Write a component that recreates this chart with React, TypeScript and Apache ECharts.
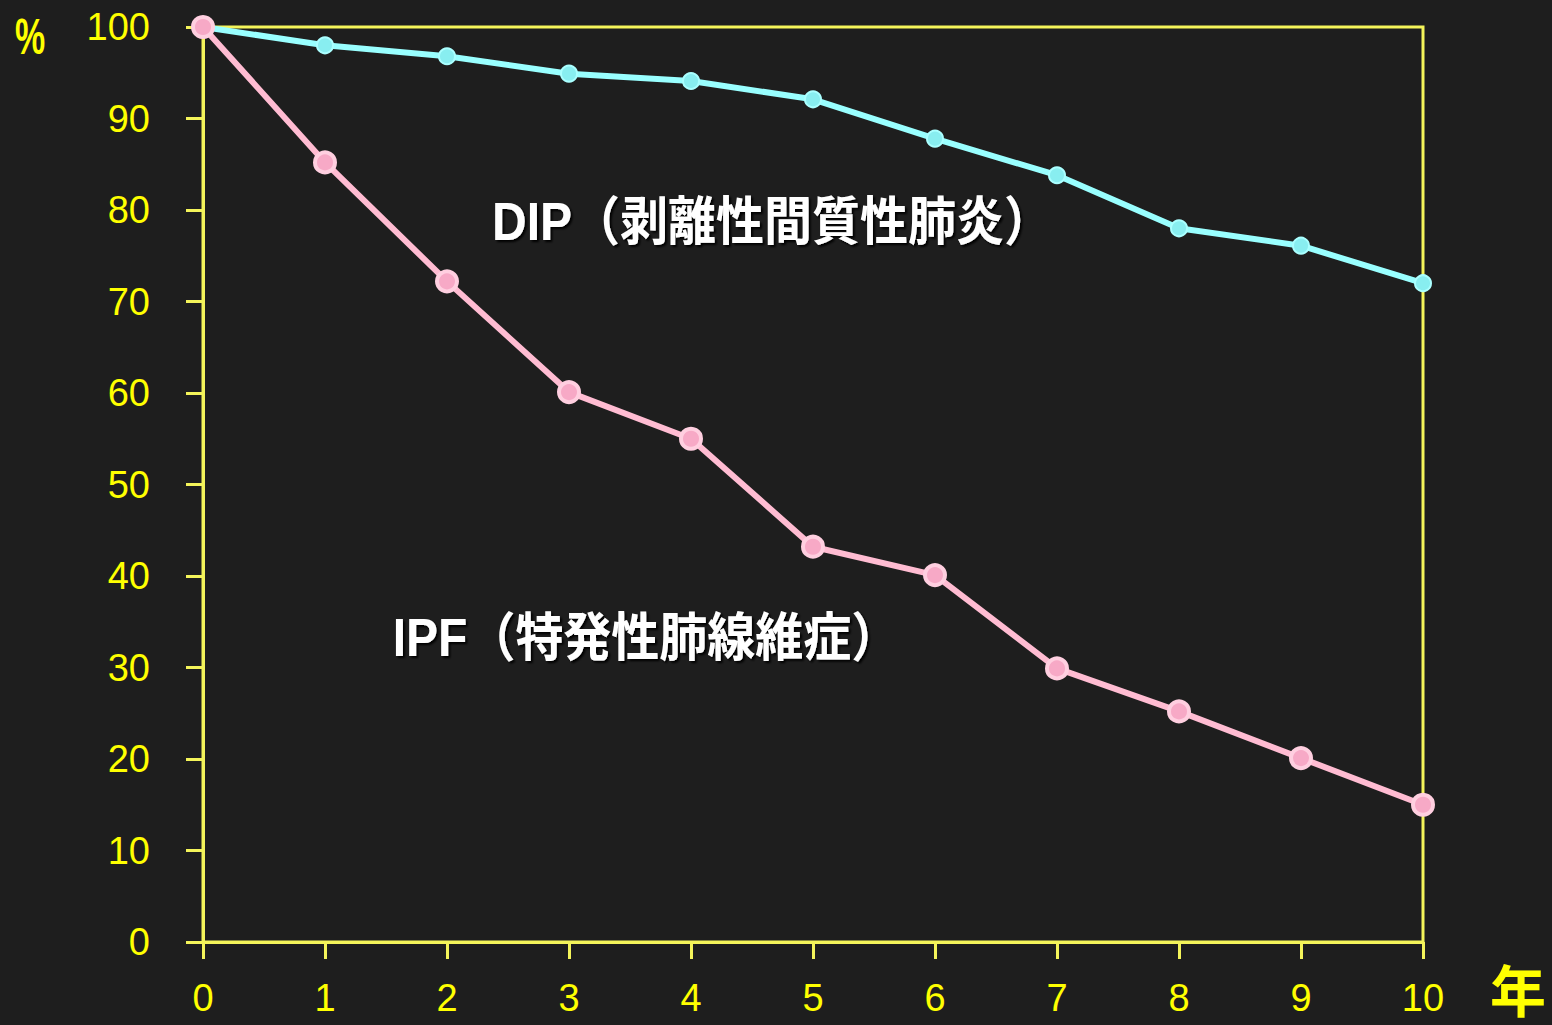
import React, { useEffect, useRef } from "react";
import * as echarts from "echarts";

// Years since diagnosis and survival rates (%)
const years = [0, 1, 2, 3, 4, 5, 6, 7, 8, 9, 10];
const dipSurvival = [100, 98.0, 96.8, 94.9, 94.1, 92.1, 87.8, 83.8, 78.0, 76.1, 72.0];
const ipfSurvival = [100, 85.2, 72.2, 60.1, 55.0, 43.2, 40.1, 29.9, 25.2, 20.1, 15.0];

const dipLabel = "DIP（剥離性間質性肺炎）";
const ipfLabel = "IPF（特発性肺線維症）";

const axisYellow = "#f4f45a";
const labelYellow = "#ffff00";
const latinFont = "'Liberation Sans', Arial, sans-serif";
const cjkFont = "'Liberation Sans', 'Noto Sans CJK JP', sans-serif";

const noteStyle = {
  fill: "#ffffff",
  font: `bold 48px ${cjkFont}`,
  align: "center",
  verticalAlign: "middle",
  textShadowColor: "#000000",
  textShadowBlur: 2,
  textShadowOffsetX: 2,
  textShadowOffsetY: 2,
};

export default function App() {
  const ref = useRef<HTMLDivElement>(null);

  useEffect(() => {
    document.body.style.margin = "0";
    const chart = echarts.init(ref.current!, undefined, { renderer: "svg" });
    chart.setOption({
      animation: false,
      backgroundColor: "#1e1e1e",
      grid: {
        left: 203,
        right: 129,
        top: 27,
        bottom: 83,
        show: true,
        borderColor: axisYellow,
        borderWidth: 3,
        backgroundColor: "transparent",
      },
      xAxis: {
        type: "value",
        min: 0,
        max: 10,
        interval: 1,
        axisLine: { show: true, lineStyle: { color: axisYellow, width: 3 } },
        axisTick: { show: true, length: 17, lineStyle: { color: axisYellow, width: 3 } },
        splitLine: { show: false },
        axisLabel: {
          color: labelYellow,
          fontSize: 38,
          fontFamily: latinFont,
          margin: 37,
          formatter: (v: number) => String(v),
        },
      },
      yAxis: {
        type: "value",
        min: 0,
        max: 100,
        interval: 10,
        axisLine: { show: true, lineStyle: { color: axisYellow, width: 3 } },
        axisTick: { show: true, length: 17, lineStyle: { color: axisYellow, width: 3 } },
        splitLine: { show: false },
        axisLabel: {
          color: labelYellow,
          fontSize: 38,
          fontFamily: latinFont,
          margin: 53,
        },
      },
      series: [
        {
          name: "DIP",
          type: "line",
          data: years.map((y, i) => [y, dipSurvival[i]]),
          symbol: "circle",
          symbolSize: 16,
          lineStyle: { color: "#99ffff", width: 6 },
          itemStyle: { color: "#88eef0", borderColor: "#aaffff", borderWidth: 2 },
          z: 3,
        },
        {
          name: "IPF",
          type: "line",
          data: years.map((y, i) => [y, ipfSurvival[i]]),
          symbol: "circle",
          symbolSize: 20,
          lineStyle: { color: "#ffbcd2", width: 6 },
          itemStyle: { color: "#f7a9c6", borderColor: "#ffcfe0", borderWidth: 4 },
          z: 4,
        },
      ],
      graphic: [
        {
          type: "text",
          x: 30,
          y: 37,
          scaleY: 1.45,
          style: {
            text: "%",
            fill: labelYellow,
            font: `bold 34px ${latinFont}`,
            align: "center",
            verticalAlign: "middle",
          },
        },
        {
          type: "text",
          x: 1518,
          y: 992,
          style: {
            text: "年",
            fill: labelYellow,
            font: `bold 56px ${cjkFont}`,
            align: "center",
            verticalAlign: "middle",
          },
        },
        {
          type: "text",
          x: 772,
          y: 222,
          scaleY: 1.1,
          style: { ...noteStyle, text: dipLabel },
        },
        {
          type: "text",
          x: 646,
          y: 638,
          scaleY: 1.1,
          style: { ...noteStyle, text: ipfLabel },
        },
      ],
    });
    return () => chart.dispose();
  }, []);

  return <div ref={ref} style={{ width: 1552, height: 1025 }} />;
}
